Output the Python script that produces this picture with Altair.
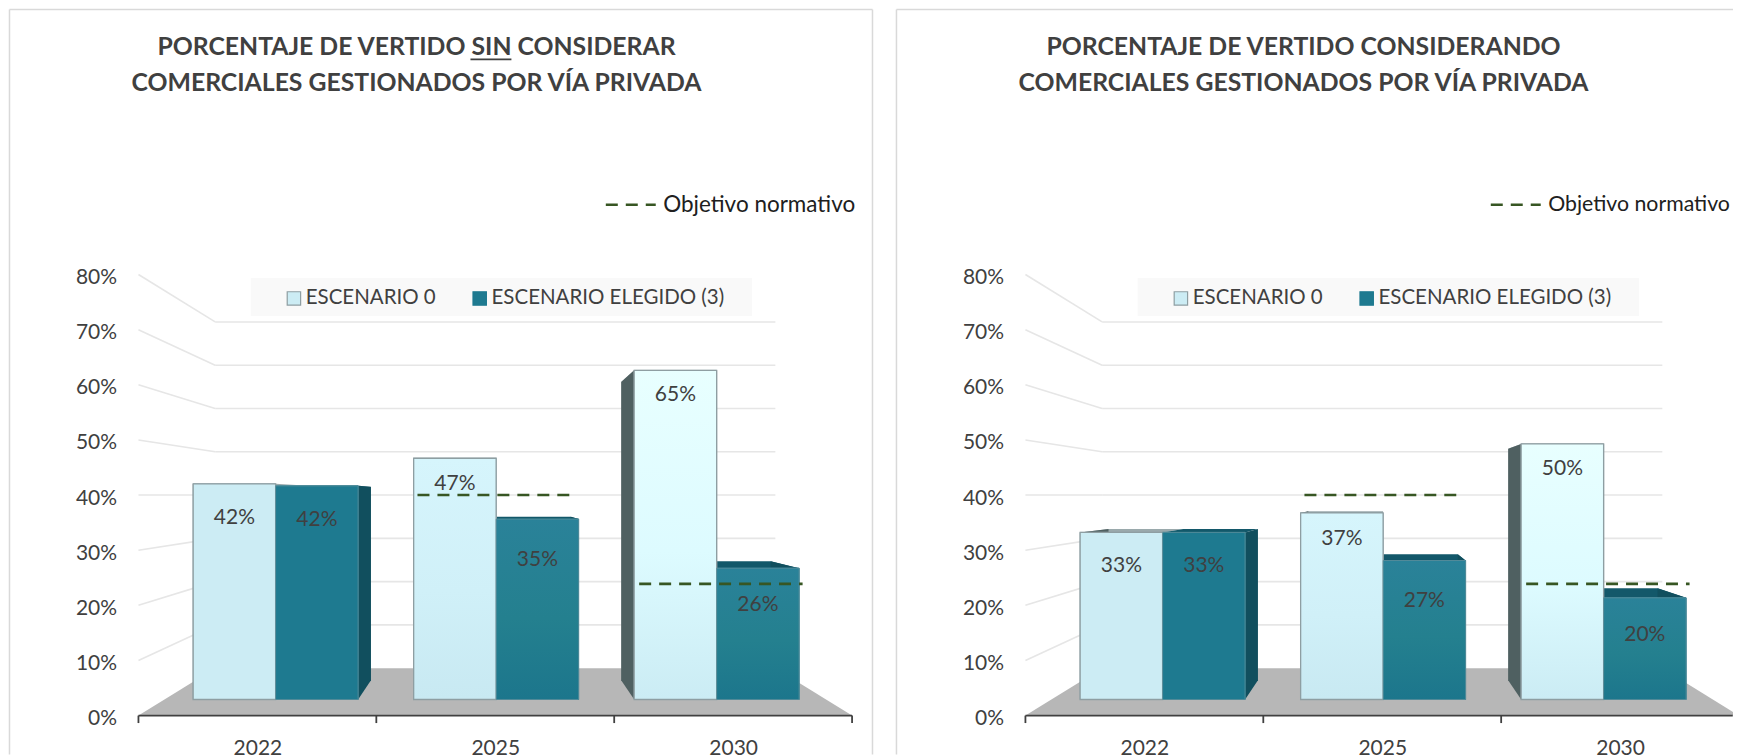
import altair as alt
import pandas as pd

YEARS = ["2022", "2025", "2030"]
SERIES = ["ESCENARIO 0", "ESCENARIO ELEGIDO (3)"]
TICKS = [0, 10, 20, 30, 40, 50, 60, 70, 80]

P1_TITLE = ["PORCENTAJE DE VERTIDO SIN CONSIDERAR", "COMERCIALES GESTIONADOS POR VÍA PRIVADA"]
P1_LIGHT = [42.2, 47.2, 64.4]
P1_DARK = [41.8, 35.3, 25.7]
P1_LIGHT_LABELS = ["42%", "47%", "65%"]
P1_DARK_LABELS = ["42%", "35%", "26%"]

P2_TITLE = ["PORCENTAJE DE VERTIDO CONSIDERANDO", "COMERCIALES GESTIONADOS POR VÍA PRIVADA"]
P2_LIGHT = [32.7, 36.5, 50.0]
P2_DARK = [32.7, 27.2, 19.9]
P2_LIGHT_LABELS = ["33%", "37%", "50%"]
P2_DARK_LABELS = ["33%", "27%", "20%"]

TARGET_NAME = "Objetivo normativo"
TARGET_VALUES = [40, 23.9]
TARGET_SPANS = [(1.173, 1.815), (2.105, 2.792)]

# layout / projection constants
PX_PER_GROUP = 238.15
ORIGIN = 130.6
PX_PER_PCT = 5.52
PLOT_H = 708
FRONT, BACK, WALL = 0.927, 0.84, 0.785
FONT = "Lato"
TXT = "#404040"
LIGHT_EDGE = "#8E9EA2"
GRADS = {
    "l0": ["#CCECF4", "#CCECF4", "#CCECF4"],
    "l1": ["#D6F5FC", "#D0F0F8", "#C8E9F2"],
    "l2": ["#E8FFFF", "#DDFBFF", "#CBECF4"],
    "d0": ["#1E7A90", "#1E7A90", "#1E7A90"],
    "d1": ["#2A8299", "#24808F", "#1C768C"],
    "d2": ["#2A8299", "#24808F", "#1C768C"],
}


def px(g, k=1.0):
    return 1.5 + (g - 1.5) * k


def py(v, k=1.0):
    return 40 * (1 - k) + v * k


DOMAIN = [None]


def X(field, **kw):
    return alt.X(field, type="quantitative", scale=alt.Scale(domain=DOMAIN[0], nice=False, zero=False), title=None, **kw)


def Y(field, **kw):
    return alt.Y(field, type="quantitative", scale=alt.Scale(domain=[0, PLOT_H / PX_PER_PCT], nice=False, zero=False), title=None, **kw)


def panel(title, light, dark, light_labels, dark_labels, width, first):
    DOMAIN[0] = [-ORIGIN / PX_PER_GROUP, (width - ORIGIN) / PX_PER_GROUP]
    x_max = DOMAIN[0][1]
    layers = []
    one = pd.DataFrame({"a": [0]})

    # frame
    layers.append(alt.Chart(one).mark_rule(color="#D9D9D9", strokeWidth=1.5)
                  .encode(x=alt.value(1.5), y=alt.value(1), y2=alt.value(747)))
    layers.append(alt.Chart(one).mark_rule(color="#D9D9D9", strokeWidth=1.5)
                  .encode(x=alt.value(1.5), x2=alt.value(width - 0.5 if first else width), y=alt.value(1)))
    if first:
        layers.append(alt.Chart(one).mark_rule(color="#D9D9D9", strokeWidth=1.5)
                      .encode(x=alt.value(865.5), y=alt.value(1), y2=alt.value(747)))
        layers.append(alt.Chart(one).mark_rule(color=TXT, strokeWidth=1.6)
                      .encode(x=alt.value(463), x2=alt.value(504), y=alt.value(51)))
    # legend backdrop
    layers.append(alt.Chart(one).mark_rect(color="#F9F9F9")
                  .encode(x=alt.value(243), x2=alt.value(745), y=alt.value(270), y2=alt.value(308)))

    # grid: slanted side wall + back wall
    grid = pd.DataFrame([
        {"x": px(0), "x2": px(0, WALL), "y": py(v), "y2": py(v, WALL)} for v in TICKS[1:]
    ] + [
        {"x": px(0, WALL), "x2": px(3, WALL), "y": py(v, WALL), "y2": py(v, WALL)} for v in TICKS[1:]
    ])
    layers.append(alt.Chart(grid).mark_rule(color="#E6E6E6", strokeWidth=1.6).encode(
        x=X("x", axis=alt.Axis(values=[0.5, 1.5, 2.5], labelExpr="['2022','2025','2030'][floor(datum.value)]",
                               domain=False, ticks=False, grid=False, labelFont=FONT, labelFontSize=21,
                               labelColor=TXT, labelPadding=22, labelBound=False, labelFlush=False,
                               labelOverlap=False)),
        x2="x2", y=Y("y", axis=alt.Axis(values=TICKS, labelExpr="datum.value + '%'", domain=False, ticks=False,
                                        grid=False, offset=-108.7, labelPadding=0, labelFont=FONT,
                                        labelFontSize=21, labelColor=TXT, labelOffset=3)),
        y2="y2"))

    # floor
    floor = pd.DataFrame([
        {"y": py(0), "xa": px(0), "xb": px(3)},
        {"y": py(0, WALL), "xa": px(0, WALL), "xb": px(3, WALL)},
    ])
    layers.append(alt.Chart(floor).mark_area(color="#B7B7B7", orient="horizontal", opacity=1, clip=True).encode(
        y=Y("y"), x=X("xa"), x2="xb"))

    # 3D faces
    side_l, side_d, top_l, top_d = [], [], [], []
    bars = []
    for i in range(3):
        l, m, r = i + 0.13, i + 0.504, i + 0.878
        for k, pts in enumerate([(l, light[i]), (r, dark[i])]):
            g, v = pts
            rows = [{"id": f"{i}{k}", "x": px(g, FRONT), "y": py(v, FRONT), "y0": py(0, FRONT)},
                    {"id": f"{i}{k}", "x": px(g, BACK), "y": py(v, BACK), "y0": py(0, BACK)}]
            (side_l if k == 0 else side_d).extend(rows)
        for k, (a, b, v) in enumerate([(l, m, light[i]), (m, r, dark[i])]):
            rows = [{"id": f"{i}{k}", "y": py(v, FRONT), "xa": px(a, FRONT), "xb": px(b, FRONT)},
                    {"id": f"{i}{k}", "y": py(v, BACK), "xa": px(a, BACK), "xb": px(b, BACK)}]
            (top_l if k == 0 else top_d).extend(rows)
        bars.append({"serie": SERIES[0], "grad": f"l{i}", "x": px(l, FRONT), "x2": px(m, FRONT),
                     "y": py(0, FRONT), "y2": py(light[i], FRONT)})
        bars.append({"serie": SERIES[1], "grad": f"d{i}", "x": px(m, FRONT), "x2": px(r, FRONT),
                     "y": py(0, FRONT), "y2": py(dark[i], FRONT)})

    for rows, col in [(top_l, "#9AA9AC"), (top_d, "#13586A")]:
        layers.append(alt.Chart(pd.DataFrame(rows)).mark_area(color=col, orient="horizontal", opacity=1).encode(
            y=Y("y"), x=X("xa"), x2="xb", detail="id:N"))
    for rows, col in [(side_l, "#4F6061"), (side_d, "#114F5E")]:
        layers.append(alt.Chart(pd.DataFrame(rows)).mark_area(color=col, opacity=1).encode(
            x=X("x"), y=Y("y"), y2="y0", detail="id:N"))

    # flat base for the legend
    legend = alt.Legend(title=None, orient="none", legendX=276, legendY=280, direction="horizontal",
                        symbolType="square", symbolSize=180, symbolStrokeWidth=1.2,
                        padding=0, labelFont=FONT, labelFontSize=20.5, labelColor=TXT, columnPadding=33,
                        labelOffset=1.6, symbolOpacity=1, labelLimit=0)
    bdf = pd.DataFrame(bars)
    layers.append(alt.Chart(bdf).mark_rect().encode(
        x=X("x"), x2="x2", y=Y("y"), y2="y2",
        color=alt.Color("serie:N", scale=alt.Scale(domain=SERIES, range=["#CCECF4", "#1E7A90"]), legend=legend),
        stroke=alt.Stroke("serie:N", scale=alt.Scale(domain=SERIES, range=[LIGHT_EDGE, "#1E7A90"]), legend=legend)))

    # gradient fronts
    for row in bars:
        stops = GRADS[row["grad"]]
        light_bar = row["grad"].startswith("l")
        mark = alt.Gradient(gradient="linear", x1=0, x2=0, y1=0, y2=1,
                            stops=[alt.GradientStop(color=stops[0], offset=0),
                                   alt.GradientStop(color=stops[1], offset=0.55),
                                   alt.GradientStop(color=stops[2], offset=1)])
        layers.append(alt.Chart(pd.DataFrame([row])).mark_rect(
            color=mark, stroke=LIGHT_EDGE if light_bar else "#5E8E9B", strokeWidth=1.3 if light_bar else 0.8
        ).encode(x=X("x"), x2="x2", y=Y("y"), y2="y2"))

    # data labels
    drops_l = [34, 26, 25]
    drops_d = [34, 41, 37]
    lab = []
    for i in range(3):
        lab.append({"x": px(i + 0.317, FRONT), "y": py(light[i], FRONT) - drops_l[i] / PX_PER_PCT, "t": light_labels[i]})
        lab.append({"x": px(i + 0.691, FRONT), "y": py(dark[i], FRONT) - drops_d[i] / PX_PER_PCT, "t": dark_labels[i]})
    layers.append(alt.Chart(pd.DataFrame(lab)).mark_text(font=FONT, fontSize=21, color=TXT, baseline="middle").encode(
        x=X("x"), y=Y("y"), text="t:N"))

    # target rules
    tgt = pd.DataFrame([{"x": s[0], "x2": s[1], "y": v, "name": TARGET_NAME}
                        for s, v in zip(TARGET_SPANS, TARGET_VALUES)])
    legend_x = 597 if first else 595
    legend_font = 22.5 if first else 21.3
    layers.append(alt.Chart(tgt).mark_rule(color="#375623", strokeWidth=2.6).encode(
        x=X("x"), x2="x2", y=Y("y"),
        strokeDash=alt.StrokeDash("name:N", scale=alt.Scale(domain=[TARGET_NAME], range=[[12, 8]]),
                                  legend=alt.Legend(title=None, orient="none", legendX=legend_x, legendY=170,
                                                    symbolType="stroke", symbolSize=2500, symbolStrokeColor="#375623",
                                                    symbolStrokeWidth=2.6, labelFont=FONT, labelFontSize=legend_font,
                                                    labelColor="#202020", labelOffset=6, padding=0, labelLimit=0))))

    # x axis line and ticks; anything past the panel's right edge is left out
    axis_rows = pd.DataFrame([{"x": 0, "x2": min(3, x_max - 0.001), "y": 0, "y2": 0}] +
                             [{"x": g, "x2": g, "y": 0, "y2": -1.35} for g in range(4) if g < x_max])
    layers.append(alt.Chart(axis_rows).mark_rule(color="#404040", strokeWidth=1.8).encode(
        x=X("x"), x2="x2", y=Y("y"), y2="y2"))

    return alt.layer(*layers, title=alt.TitleParams(
        text=title, font=FONT, fontSize=24.8, fontWeight="bold", color=TXT, anchor="middle",
        dx=417 - 8 - width / 2, offset=-87, lineHeight=35.5
    )).properties(width=width, height=PLOT_H)


p1 = panel(P1_TITLE, P1_LIGHT, P1_DARK, P1_LIGHT_LABELS, P1_DARK_LABELS, 866, True)
p2 = panel(P2_TITLE, P2_LIGHT, P2_DARK, P2_LIGHT_LABELS, P2_DARK_LABELS, 839, False)

chart = (alt.hconcat(p1, p2, spacing=21)
         .resolve_scale(color="independent", stroke="independent", strokeDash="independent")
         .resolve_legend(color="independent", stroke="independent", strokeDash="independent")
         .properties(padding=0, background="white").configure_view(stroke=None))
chart.save("out.html", embed_options={"renderer": "svg", "actions": False})
